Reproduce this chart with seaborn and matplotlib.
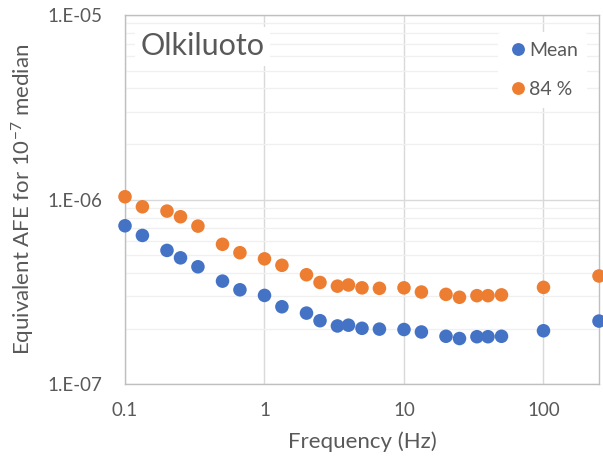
import numpy as np
import pandas as pd
import matplotlib
matplotlib.use("Agg")
import matplotlib.pyplot as plt
import seaborn as sns
from matplotlib.ticker import LogLocator, FixedLocator, FuncFormatter

# Frequencies (Hz) and equivalent AFE values
freq = [0.1, 0.1333, 0.2, 0.25, 0.3333, 0.5, 0.6667, 1.0, 1.333, 2.0, 2.5, 3.333,
        4.0, 5.0, 6.667, 10.0, 13.33, 20.0, 25.0, 33.33, 40.0, 50.0, 100.0, 250.0]
mean_afe = [7.22e-7, 6.40e-7, 5.31e-7, 4.84e-7, 4.33e-7, 3.62e-7, 3.25e-7, 3.03e-7,
            2.63e-7, 2.43e-7, 2.21e-7, 2.07e-7, 2.09e-7, 2.01e-7, 1.99e-7, 1.98e-7,
            1.92e-7, 1.82e-7, 1.77e-7, 1.81e-7, 1.81e-7, 1.82e-7, 1.95e-7, 2.20e-7]
p84_afe = [1.037e-6, 9.15e-7, 8.67e-7, 8.08e-7, 7.19e-7, 5.73e-7, 5.16e-7, 4.78e-7,
           4.41e-7, 3.92e-7, 3.56e-7, 3.40e-7, 3.45e-7, 3.33e-7, 3.31e-7, 3.33e-7,
           3.16e-7, 3.07e-7, 2.96e-7, 3.02e-7, 3.02e-7, 3.05e-7, 3.35e-7, 3.86e-7]
series_names = ["Mean", "84 %"]
x_ticks = [0.1, 1, 10, 100]
x_tick_labels = ["0.1", "1", "10", "100"]
y_ticks = [1e-7, 1e-6, 1e-5]
y_tick_labels = ["1.E-07", "1.E-06", "1.E-05"]

df = pd.DataFrame({
    "Frequency": freq * 2,
    "AFE": mean_afe + p84_afe,
    "Series": [series_names[0]] * len(freq) + [series_names[1]] * len(freq),
})

sns.set_theme(style="white")
plt.rcParams["font.family"] = ["Lato", "DejaVu Sans"]
plt.rcParams["mathtext.fontset"] = "custom"
plt.rcParams["mathtext.rm"] = "Lato"
plt.rcParams["mathtext.it"] = "Lato:italic"

text_col = "#595959"
fig = plt.figure(figsize=(6.03, 4.66), dpi=100)
ax = fig.add_axes([125 / 603, 1 - 384.3 / 466, (599 - 125) / 603, (384.3 - 15) / 466])

ax.set_xscale("log")
ax.set_yscale("log")
ax.set_xlim(0.1, 250)
ax.set_ylim(1e-7, 1e-5)

# gridlines: decade verticals, minor + major horizontals
ax.xaxis.set_major_locator(FixedLocator(x_ticks))
ax.xaxis.set_minor_locator(FixedLocator([]))
ax.yaxis.set_major_locator(FixedLocator(y_ticks))
ax.yaxis.set_minor_locator(LogLocator(base=10, subs=np.arange(2, 10)))
ax.xaxis.set_major_formatter(FuncFormatter(lambda v, p: x_tick_labels[x_ticks.index(v)] if v in x_ticks else ""))
ax.yaxis.set_major_formatter(FuncFormatter(lambda v, p: y_tick_labels[int(round(np.log10(v))) + 7]))
ax.yaxis.set_minor_formatter(FuncFormatter(lambda v, p: ""))
ax.grid(which="major", axis="x", color="#D9D9D9", lw=1.0)
ax.grid(which="major", axis="y", color="#D9D9D9", lw=1.0)
ax.grid(which="minor", axis="y", color="#F0F0F0", lw=1.0)
ax.set_axisbelow(True)

sns.scatterplot(data=df, x="Frequency", y="AFE", hue="Series",
                palette={"Mean": "#4472C4", "84 %": "#ED7D31"},
                s=95, edgecolor="none", ax=ax, zorder=3, clip_on=False)

for side, sp in ax.spines.items():
    sp.set_color("#BFBFBF")
    sp.set_linewidth(1.0)

ax.tick_params(axis="both", which="both", length=0, colors=text_col, labelsize=13.5)
ax.tick_params(axis="x", pad=13)
ax.tick_params(axis="y", pad=16)
ax.set_xlabel("Frequency (Hz)", color=text_col, fontsize=16)
ax.set_ylabel(r"Equivalent AFE for 10$^{-7}$ median", color=text_col, fontsize=16)
ax.xaxis.set_label_coords(0.5, -0.128)
ax.yaxis.set_label_coords(-0.185, 0.5)

# chart title inside the plot area, on a white box
ax.text(0.033, 0.915, "Olkiluoto", transform=ax.transAxes, fontsize=22, color=text_col,
        ha="left", va="center", zorder=4,
        bbox=dict(facecolor="white", edgecolor="none", pad=4))

leg = ax.legend(loc="upper right", bbox_to_anchor=(0.988, 0.97), frameon=True, fontsize=14,
                handletextpad=0.0, labelspacing=1.15, borderpad=0.5, markerscale=0.95,
                handlelength=1.1, borderaxespad=0.3)
leg.get_frame().set_facecolor("white")
leg.get_frame().set_edgecolor("none")
leg.get_frame().set_alpha(1.0)
for t in leg.get_texts():
    t.set_color(text_col)

fig.savefig("out.png", dpi=100)
